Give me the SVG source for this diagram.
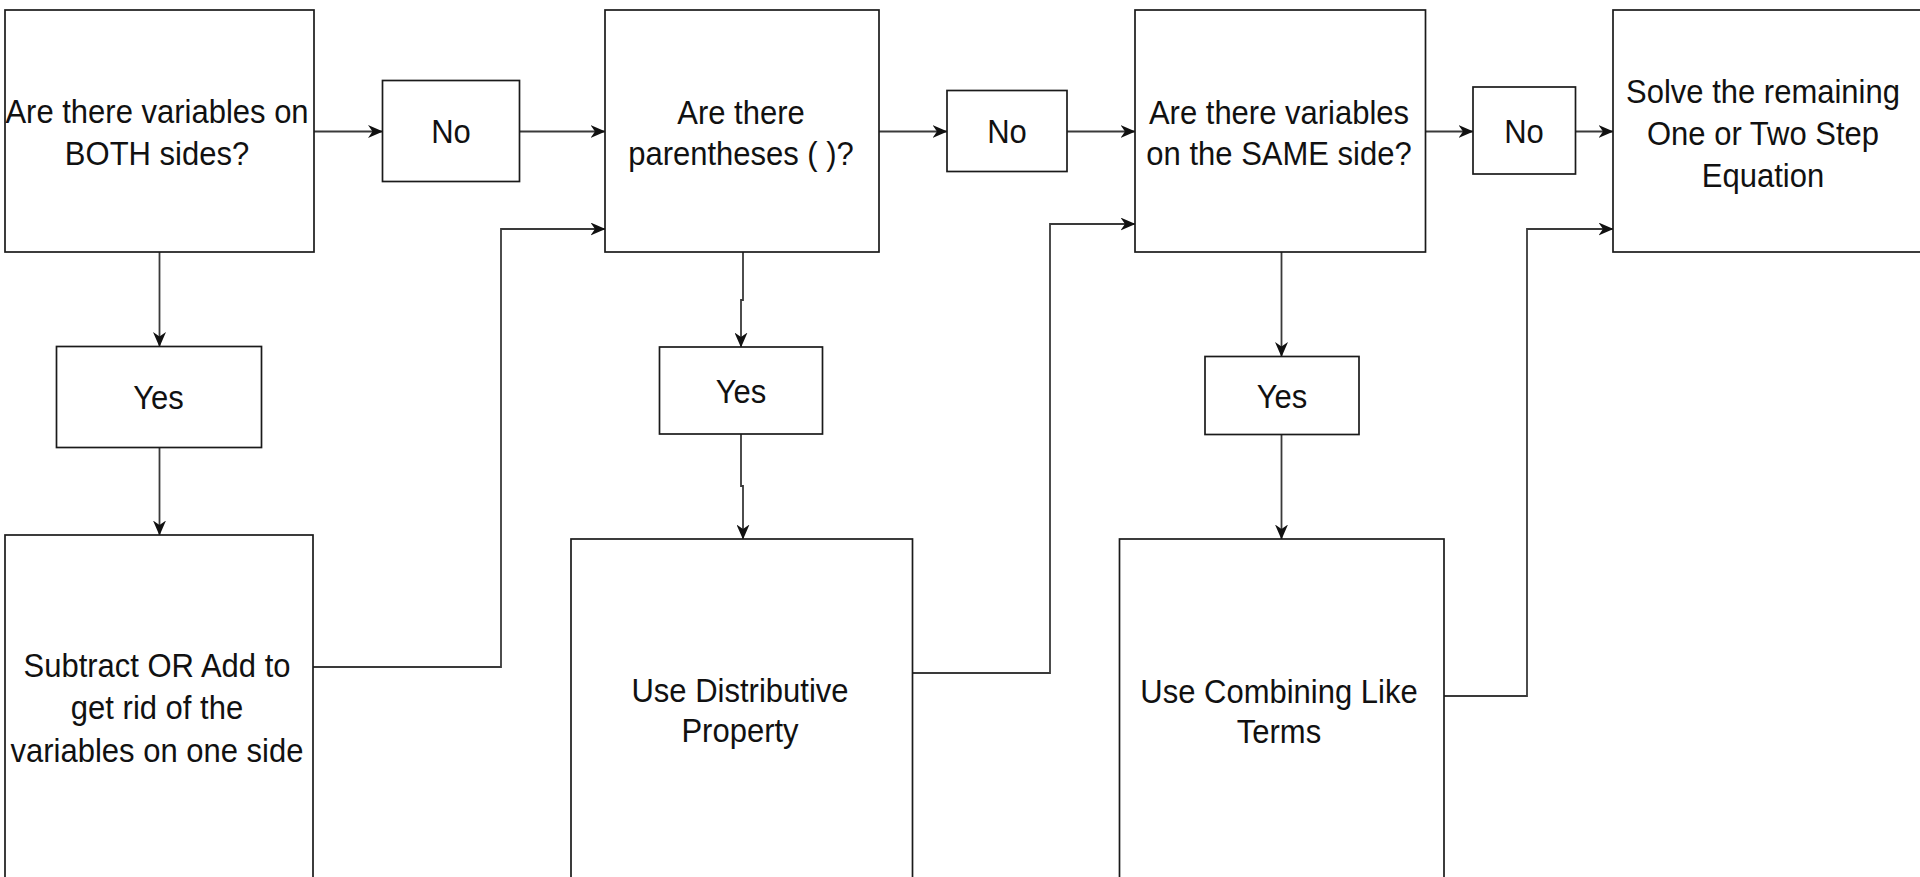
<svg xmlns="http://www.w3.org/2000/svg" width="1920" height="877" viewBox="0 0 1920 877">
  <defs>
    <style>
      .box { fill: #ffffff; stroke: #1a1a1a; stroke-width: 1.7; }
      .edge { fill: none; stroke: #3a3a3a; stroke-width: 1.8; marker-end: url(#arrow); }
      .t { font-family: "Liberation Sans", Arial, Helvetica, sans-serif; font-size: 31px; fill: #111111; text-anchor: middle; }
    </style>
    <marker id="arrow" markerUnits="userSpaceOnUse" viewBox="0 0 15 13" markerWidth="15" markerHeight="13" refX="14.5" refY="6.5" orient="auto">
      <path d="M0,0 L15,6.5 L0,13 L4.5,6.5 Z" fill="#111111"/>
    </marker>
  </defs>
  <rect x="0" y="0" width="1920" height="877" fill="#ffffff"/>

  <g id="connectors">
    <path class="edge" d="M314,131.5 L382.5,131.5"/>
    <path class="edge" d="M519.5,131.5 L605,131.5"/>
    <path class="edge" d="M879,131.5 L947,131.5"/>
    <path class="edge" d="M1067,131.5 L1135,131.5"/>
    <path class="edge" d="M1425.5,131.5 L1473,131.5"/>
    <path class="edge" d="M1575.5,131.5 L1613,131.5"/>
    <path class="edge" d="M159.5,252 L159.5,346.5"/>
    <path class="edge" d="M159.5,447.5 L159.5,535"/>
    <path class="edge" d="M743,252 L743,300 L741,300 L741,347"/>
    <path class="edge" d="M741,434 L741,486 L743,486 L743,539"/>
    <path class="edge" d="M1281.5,252 L1281.5,356.5"/>
    <path class="edge" d="M1281.5,434.5 L1281.5,539"/>
    <path class="edge" d="M313,667 L501,667 L501,229 L605,229"/>
    <path class="edge" d="M912,673 L1050,673 L1050,224 L1135,224"/>
    <path class="edge" d="M1444,696 L1527,696 L1527,229 L1613,229"/>
  </g>

  <g id="q-both">
    <rect class="box" x="5" y="10" width="309" height="242"/>
    <text class="t" transform="translate(157,123.3) scale(1,1.1)"><tspan x="0" y="0">Are there variables on</tspan><tspan x="0" y="37.9">BOTH sides?</tspan></text>
  </g>
  <g id="no-1">
    <rect class="box" x="382.5" y="80.5" width="137" height="101"/>
    <text class="t" transform="translate(451,143) scale(1,1.1)" x="0" y="0">No</text>
  </g>
  <g id="q-parens">
    <rect class="box" x="605" y="10" width="274" height="242"/>
    <text class="t" transform="translate(741,123.5) scale(1,1.1)"><tspan x="0" y="0">Are there</tspan><tspan x="0" y="37.9">parentheses ( )?</tspan></text>
  </g>
  <g id="no-2">
    <rect class="box" x="947" y="90.5" width="120" height="81"/>
    <text class="t" transform="translate(1007,143) scale(1,1.1)" x="0" y="0">No</text>
  </g>
  <g id="q-same">
    <rect class="box" x="1135" y="10" width="290.5" height="242"/>
    <text class="t" transform="translate(1279,123.5) scale(1,1.1)"><tspan x="0" y="0">Are there variables</tspan><tspan x="0" y="37.9">on the SAME side?</tspan></text>
  </g>
  <g id="no-3">
    <rect class="box" x="1473" y="87" width="102.5" height="87"/>
    <text class="t" transform="translate(1524,143) scale(1,1.1)" x="0" y="0">No</text>
  </g>
  <g id="solve">
    <rect class="box" x="1613" y="10" width="330" height="242"/>
    <text class="t" transform="translate(1763,103) scale(1,1.1)"><tspan x="0" y="0">Solve the remaining</tspan><tspan x="0" y="38.2">One or Two Step</tspan><tspan x="0" y="76.4">Equation</tspan></text>
  </g>
  <g id="yes-1">
    <rect class="box" x="56.5" y="346.5" width="205" height="101"/>
    <text class="t" transform="translate(158.5,409) scale(1,1.1)" x="0" y="0">Yes</text>
  </g>
  <g id="subtract-add">
    <rect class="box" x="5" y="535" width="308" height="370"/>
    <text class="t" transform="translate(157,677) scale(1,1.1)"><tspan x="0" y="0">Subtract OR Add to</tspan><tspan x="0" y="38.6">get rid of the</tspan><tspan x="0" y="77.3">variables on one side</tspan></text>
  </g>
  <g id="yes-2">
    <rect class="box" x="659.5" y="347" width="163" height="87"/>
    <text class="t" transform="translate(741,403) scale(1,1.1)" x="0" y="0">Yes</text>
  </g>
  <g id="distributive">
    <rect class="box" x="571" y="539" width="341.5" height="370"/>
    <text class="t" transform="translate(740,702) scale(1,1.1)"><tspan x="0" y="0">Use Distributive</tspan><tspan x="0" y="36.4">Property</tspan></text>
  </g>
  <g id="yes-3">
    <rect class="box" x="1205" y="356.5" width="154" height="78"/>
    <text class="t" transform="translate(1282,408) scale(1,1.1)" x="0" y="0">Yes</text>
  </g>
  <g id="combining">
    <rect class="box" x="1119.5" y="539" width="324.5" height="370"/>
    <text class="t" transform="translate(1279,703) scale(1,1.1)"><tspan x="0" y="0">Use Combining Like</tspan><tspan x="0" y="36.4">Terms</tspan></text>
  </g>
</svg>
